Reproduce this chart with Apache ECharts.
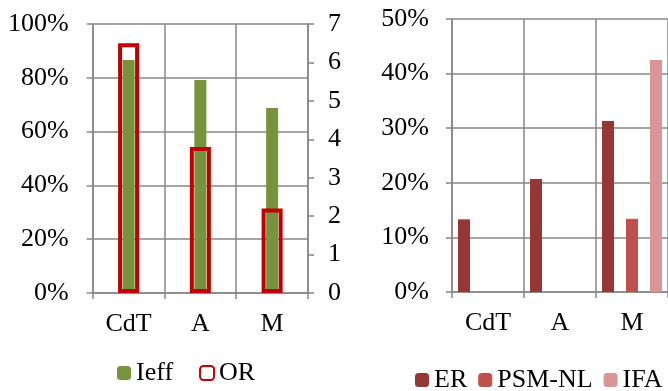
<!DOCTYPE html>
<html>
<head>
<meta charset="utf-8">
<script src="https://cdn.jsdelivr.net/npm/echarts@6/dist/echarts.min.js"></script>
<style>
  html, body { margin: 0; padding: 0; background: #fff; }
  #chart { width: 668px; height: 391px; }
</style>
</head>
<body>
<div id="chart"></div>
<script>
// categories shared by both panels
var categories = ['CdT', 'A', 'M'];
// left panel
var ieff = [86.6, 79.2, 68.8];      // percent, left axis
var orVals = [6.5, 3.8, 2.2];       // right axis 0..7
// right panel (percent)
var er = [13.3, 20.7, 31.3];
var psmNl = [null, null, 13.4];
var ifa = [null, null, 42.5];

var font = 'Liberation Serif';
var fs = 26;
var gridCol = '#878787';

var chart = echarts.init(document.getElementById('chart'));

function catAxis(gridIndex, show) {
  return {
    type: 'category', gridIndex: gridIndex, data: categories,
    show: show,
    axisLine: { lineStyle: { color: gridCol, width: 1.5 } },
    axisTick: { show: true, length: 6, lineStyle: { color: gridCol, width: 1.5 } },
    axisLabel: { color: '#000', fontFamily: font, fontSize: fs, margin: 18 },
    splitLine: { show: true, lineStyle: { color: gridCol, width: 1.5 } }
  };
}

function valAxis(gridIndex, pos, max, step, fmt, margin, split) {
  return {
    type: 'value', gridIndex: gridIndex, position: pos, min: 0, max: max, interval: step,
    axisLine: { show: true, lineStyle: { color: gridCol, width: 1.5 } },
    axisTick: { show: true, length: 6, lineStyle: { color: gridCol, width: 1.5 } },
    axisLabel: { formatter: fmt, color: '#000', fontFamily: font, fontSize: fs, margin: margin },
    splitLine: { show: split, lineStyle: { color: gridCol, width: 1.5 } }
  };
}

var option = {
  animation: false,
  textStyle: { fontFamily: font },
  grid: [
    { left: 92.7, top: 24, width: 215.3, height: 269 },
    { left: 452, top: 19, width: 220, height: 273 }
  ],
  xAxis: [
    catAxis(0, true),
    catAxis(0, false),
    catAxis(1, true)
  ],
  yAxis: [
    valAxis(0, 'left', 100, 20, '{value}%', 24, true),
    valAxis(0, 'right', 7, 1, '{value}', 20, false),
    valAxis(1, 'left', 50, 10, '{value}%', 23, true)
  ],
  legend: [
    {
      data: ['Ieff', 'OR'], left: 112, top: 355,
      itemWidth: 14, itemHeight: 14, itemGap: 26,
      textStyle: { color: '#000', fontFamily: font, fontSize: fs }
    },
    {
      data: ['ER', 'PSM-NL', 'IFA'], left: 410, top: 362, width: 320,
      itemWidth: 14, itemHeight: 14, itemGap: 11,
      textStyle: { color: '#000', fontFamily: font, fontSize: fs }
    }
  ],
  series: [
    {
      name: 'Ieff', type: 'bar', xAxisIndex: 0, yAxisIndex: 0,
      data: ieff, barWidth: 12, itemStyle: { color: '#77933C' }
    },
    {
      name: 'OR', type: 'bar', xAxisIndex: 1, yAxisIndex: 1,
      data: orVals, barWidth: 21,
      itemStyle: { color: 'rgba(255,255,255,0)', borderColor: '#C00000', borderWidth: 4 }
    },
    {
      name: 'ER', type: 'bar', xAxisIndex: 2, yAxisIndex: 2,
      data: er, barWidth: 12, barGap: '100%', itemStyle: { color: '#953735' }
    },
    {
      name: 'PSM-NL', type: 'bar', xAxisIndex: 2, yAxisIndex: 2,
      data: psmNl, barWidth: 12, barGap: '100%', itemStyle: { color: '#C0504D' }
    },
    {
      name: 'IFA', type: 'bar', xAxisIndex: 2, yAxisIndex: 2,
      data: ifa, barWidth: 12, barGap: '100%', itemStyle: { color: '#D99694' }
    }
  ]
};

chart.setOption(option);
</script>
</body>
</html>
